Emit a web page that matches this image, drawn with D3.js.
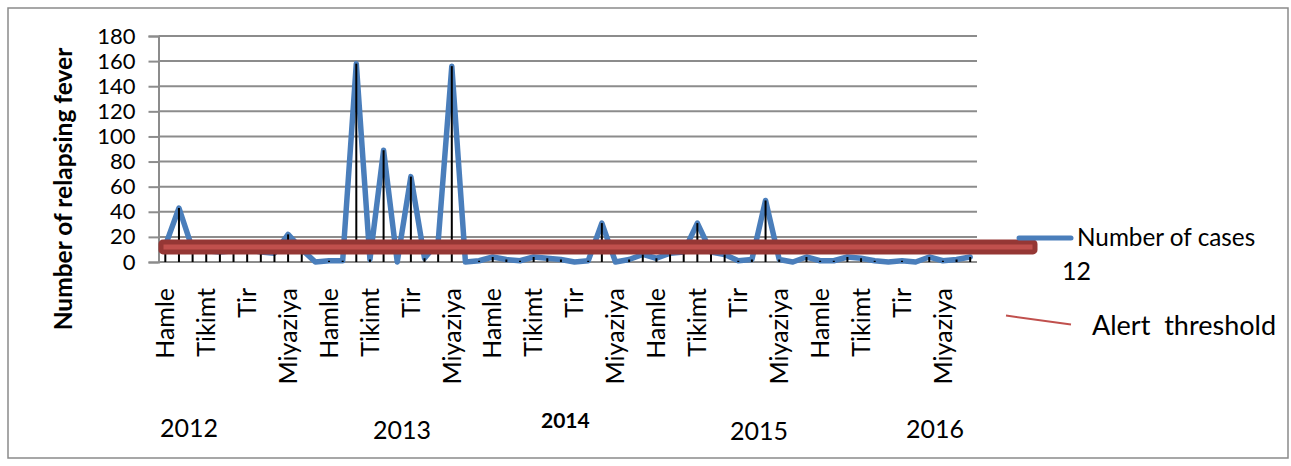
<!DOCTYPE html>
<html>
<head>
<meta charset="utf-8">
<script src="https://cdn.jsdelivr.net/npm/d3@7"></script>
<style>
  html, body { margin: 0; padding: 0; background: #fff; }
  svg { display: block; font-family: Lato, "Open Sans", sans-serif; }
  text { white-space: pre; }
</style>
</head>
<body>
<svg id="chart" width="1291" height="466"></svg>
<script>
// Ethiopian calendar months, fiscal year starting with Hamle
const months = ["Hamle", "Nehase", "Meskerem", "Tikimt", "Hidar", "Tahsas",
                "Tir", "Yekatit", "Megabit", "Miyaziya", "Ginbot", "Sene"];
const years = ["2012", "2013", "2014", "2015", "2016"];
const shownMonths = ["Hamle", "Tikimt", "Tir", "Miyaziya"];
const yTicks = [0, 20, 40, 60, 80, 100, 120, 140, 160, 180];

// Monthly relapsing fever cases, 2012–2016
const cases = [
  13, 43, 10, 9, 8, 9, 10, 8, 7, 22,
  10, 0, 1, 1, 158, 2, 89, 0, 68, 3,
  16, 156, 0, 1, 4, 2, 1, 4, 3, 2,
  0, 1, 31, 0, 2, 6, 3, 7, 8, 31,
  8, 6, 1, 2, 49, 2, 0, 4, 1, 1,
  4, 3, 1, 0, 1, 0, 4, 1, 2, 4
];
const alertThreshold = 12;

const categories = [];
years.forEach(yr => months.forEach(m => categories.push({ key: yr + "-" + m, year: yr, month: m })));
const data = categories.map((c, i) => ({ ...c, value: cases[i] }));

const svg = d3.select("#chart");
const plot = { left: 158.5, right: 977, top: 36, bottom: 262 };

const x = d3.scaleBand().domain(categories.map(c => c.key)).range([plot.left, plot.right]);
const y = d3.scaleLinear().domain([0, 180]).range([plot.bottom, plot.top]);
const cx = k => x(k) + x.bandwidth() / 2;

// outer frame
svg.append("rect")
  .attr("x", 8).attr("y", 8).attr("width", 1280).attr("height", 450)
  .attr("fill", "#fff").attr("stroke", "#8a8a8a").attr("stroke-width", 1.5);

// horizontal gridlines
svg.append("g").selectAll("line").data(yTicks.filter(t => t > 0)).join("line")
  .attr("x1", plot.left).attr("x2", plot.right)
  .attr("y1", d => y(d)).attr("y2", d => y(d))
  .attr("stroke", "#8c8c8c").attr("stroke-width", 2);

// y axis
const yAxis = svg.append("g").attr("transform", `translate(${plot.left},0)`)
  .call(d3.axisLeft(y).tickValues(yTicks).tickSize(10).tickPadding(13));
yAxis.select(".domain").attr("stroke", "#8c8c8c").attr("stroke-width", 2);
yAxis.selectAll(".tick line").attr("stroke", "#8c8c8c").attr("stroke-width", 2);
yAxis.selectAll(".tick text").attr("font-family", "Lato").attr("font-size", 22).attr("fill", "#000");

// x axis line
svg.append("line")
  .attr("x1", plot.left).attr("x2", plot.right)
  .attr("y1", y(0)).attr("y2", y(0))
  .attr("stroke", "#8c8c8c").attr("stroke-width", 2);

// month labels (every third month)
svg.append("g").selectAll("text")
  .data(data.filter(d => shownMonths.includes(d.month))).join("text")
  .attr("transform", d => `translate(${cx(d.key)},288) rotate(-90)`)
  .attr("text-anchor", "end").attr("dy", "0.35em")
  .attr("font-size", 25).attr("fill", "#000")
  .text(d => d.month);

// case line
svg.append("path").datum(data)
  .attr("fill", "none").attr("stroke", "#4a7ebb").attr("stroke-width", 5.5)
  .attr("stroke-linejoin", "round").attr("stroke-linecap", "round")
  .attr("d", d3.line().x(d => cx(d.key)).y(d => y(d.value)));

// drop lines from each point to the axis
svg.append("g").selectAll("line").data(data).join("line")
  .attr("x1", d => cx(d.key)).attr("x2", d => cx(d.key))
  .attr("y1", d => y(d.value)).attr("y2", y(0))
  .attr("stroke", "#000").attr("stroke-width", 2);

// alert threshold band
svg.append("rect")
  .attr("x", 161).attr("width", 874)
  .attr("y", y(alertThreshold) - 5).attr("height", 10)
  .attr("rx", 2)
  .attr("fill", "#c0504d").attr("stroke", "#953735").attr("stroke-width", 5);

// y axis title
svg.append("text")
  .attr("transform", "translate(63,189) rotate(-90)")
  .attr("text-anchor", "middle").attr("dy", "0.35em")
  .attr("font-size", 24.5).attr("font-weight", "bold").attr("fill", "#000")
  .text("Number of relapsing fever");

// year labels
const yearPos = [
  { t: "2012", x: 160, y: 437, size: 25, bold: false },
  { t: "2013", x: 373, y: 439, size: 25, bold: false },
  { t: "2014", x: 541, y: 428, size: 21, bold: true },
  { t: "2015", x: 730, y: 440, size: 25, bold: false },
  { t: "2016", x: 906, y: 438, size: 25, bold: false }
];
svg.append("g").selectAll("text").data(yearPos).join("text")
  .attr("x", d => d.x).attr("y", d => d.y)
  .attr("font-size", d => d.size).attr("font-weight", d => d.bold ? "bold" : "normal")
  .attr("fill", "#000").text(d => d.t);

// legend
const legend = svg.append("g");
legend.append("line")
  .attr("x1", 1019).attr("x2", 1071).attr("y1", 238).attr("y2", 238)
  .attr("stroke", "#4a7ebb").attr("stroke-width", 5).attr("stroke-linecap", "round");
legend.append("text").attr("x", 1077).attr("y", 246)
  .attr("font-size", 24.3).attr("fill", "#000").text("Number of cases");
legend.append("text").attr("x", 1062).attr("y", 280)
  .attr("font-size", 25).attr("fill", "#000").text(String(alertThreshold));
legend.append("line")
  .attr("x1", 1006).attr("x2", 1071).attr("y1", 315.5).attr("y2", 324.5)
  .attr("stroke", "#c0504d").attr("stroke-width", 2);
legend.append("text").attr("x", 1092).attr("y", 335)
  .attr("font-size", 27).attr("fill", "#000").text("Alert  threshold");
</script>
</body>
</html>
